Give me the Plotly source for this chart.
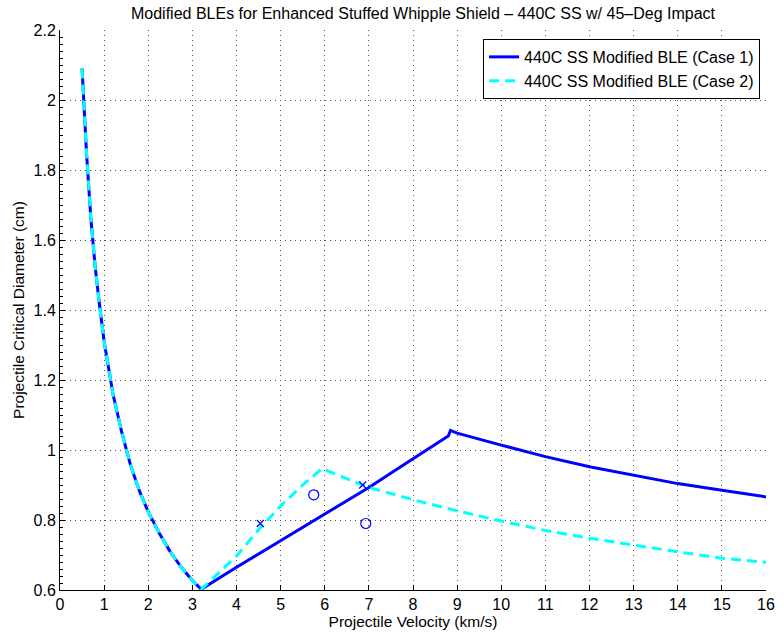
import plotly.graph_objects as go

# Shared low-velocity branch (km/s, cm)
low_v = [0.5, 0.55, 0.6, 0.7, 0.8, 0.9, 1.0, 1.2, 1.4, 1.6, 1.8, 2.0, 2.25, 2.5, 2.75, 3.0, 3.2]
low_d = [2.09, 1.96, 1.85, 1.66, 1.52, 1.41, 1.31, 1.16, 1.05, 0.956, 0.883, 0.823, 0.762, 0.709, 0.665, 0.627, 0.602]

# Case 1 beyond the low-velocity branch
case1_v = [3.2, 4.0, 5.0, 6.0, 7.0, 8.0, 8.8, 8.85, 9.0, 10.0, 11.0, 12.0, 13.0, 14.0, 15.0, 16.0]
case1_d = [0.602, 0.665, 0.741, 0.817, 0.893, 0.975, 1.040, 1.056, 1.048, 1.014, 0.981, 0.952, 0.928, 0.904, 0.885, 0.866]

# Case 2 beyond the low-velocity branch
case2_v = [3.2, 4.0, 4.5, 5.0, 5.5, 5.94, 7.0, 8.0, 9.0, 10.0, 11.0, 12.0, 13.0, 14.0, 15.0, 16.0]
case2_d = [0.602, 0.697, 0.772, 0.840, 0.900, 0.947, 0.893, 0.858, 0.826, 0.797, 0.770, 0.748, 0.728, 0.709, 0.691, 0.679]

# Test data points
x_pts_v = [4.54, 6.86]
x_pts_d = [0.790, 0.900]
o_pts_v = [5.75, 6.93]
o_pts_d = [0.872, 0.790]

legend_names = ["440C SS Modified BLE (Case 1)", "440C SS Modified BLE (Case 2)"]

FONT = "Liberation Sans, Arial, Helvetica, sans-serif"

fig = go.Figure()
fig.add_trace(go.Scatter(x=low_v + case1_v[1:], y=low_d + case1_d[1:], mode="lines",
                         line=dict(color="#0000ff", width=3), name=legend_names[0]))
fig.add_trace(go.Scatter(x=low_v + case2_v[1:], y=low_d + case2_d[1:], mode="lines",
                         line=dict(color="#00ffff", width=3, dash="10px,6px"), name=legend_names[1]))
fig.add_trace(go.Scatter(x=x_pts_v, y=x_pts_d, mode="markers", showlegend=False,
                         marker=dict(symbol="x-thin", size=7, line=dict(color="#0000ff", width=1.2))))
fig.add_trace(go.Scatter(x=o_pts_v, y=o_pts_d, mode="markers", showlegend=False,
                         marker=dict(symbol="circle-open", size=10, color="#0000ff", line=dict(width=1.2))))

fig.update_layout(
    width=784, height=636,
    margin=dict(l=60, r=9, t=30, b=43),
    paper_bgcolor="white", plot_bgcolor="white",
    font=dict(family=FONT, size=13, color="black"),
    title=dict(text="Modified BLEs for Enhanced Stuffed Whipple Shield – 440C SS w/ 45–Deg Impact",
               x=423 / 784, xanchor="center", y=1 - 13 / 636, yanchor="middle",
               font=dict(size=16)),
    legend=dict(x=0.9916, xanchor="right", y=0.984, yanchor="top",
                bordercolor="black", borderwidth=1, bgcolor="white",
                font=dict(size=16), itemwidth=30, tracegroupgap=0),
    showlegend=True,
)
fig.update_xaxes(range=[0, 16], dtick=1, tick0=0, showline=True, linecolor="black", linewidth=1,
                 ticks="inside", ticklen=5, tickcolor="black",
                 showgrid=True, gridcolor="#555555", gridwidth=1, griddash="1px,4px",
                 zeroline=False, title=dict(text="Projectile Velocity (km/s)", standoff=3,
                                            font=dict(size=15.5)),
                 tickfont=dict(size=16))
fig.update_yaxes(range=[0.6, 2.2], dtick=0.2, tick0=0.6, showline=True, linecolor="black", linewidth=1,
                 ticks="inside", ticklen=5, tickcolor="black",
                 minor=dict(dtick=0.02, ticks="inside", ticklen=3, tickcolor="black", showgrid=False),
                 showgrid=True, gridcolor="#555555", gridwidth=1, griddash="1px,4px",
                 zeroline=False, title=dict(text="Projectile Critical Diameter (cm)", standoff=5,
                                            font=dict(size=15.5)),
                 tickfont=dict(size=16))

fig.write_html("out.html")
